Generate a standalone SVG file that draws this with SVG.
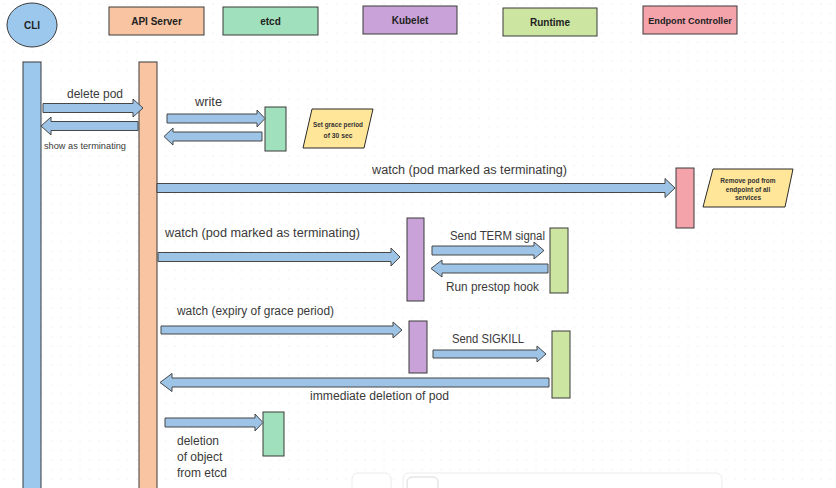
<svg xmlns="http://www.w3.org/2000/svg" width="836" height="488" viewBox="0 0 836 488">
<defs>
<pattern id="dots" x="3" y="3" width="9.5" height="9.5" patternUnits="userSpaceOnUse">
<circle cx="1" cy="1" r="0.6" fill="#e2e2e2"/>
</pattern>
</defs>
<style>
.hd{stroke:#3a3a3a;stroke-width:1}
.bar{stroke:#3a3a3a;stroke-width:1}
.arr{fill:#9DC3E6;stroke:#474747;stroke-width:1;stroke-linejoin:miter}
.note{fill:#FFE699;stroke:#2b2b2b;stroke-width:1}
.ht{font-family:"Liberation Sans",Arial,sans-serif;font-weight:bold;font-size:10px;fill:#222;text-anchor:middle}
.lb{font-family:"Liberation Sans",Arial,sans-serif;font-size:12px;fill:#3a3a3a}
.sm{font-family:"Liberation Sans",Arial,sans-serif;font-size:9px;fill:#3a3a3a}
.nt{font-family:"Liberation Sans",Arial,sans-serif;font-weight:bold;font-size:7.5px;fill:#333;text-anchor:middle}
.nt2{font-family:"Liberation Sans",Arial,sans-serif;font-weight:bold;font-size:6.5px;fill:#333;text-anchor:middle}
.ui{fill:#ffffff;stroke:#ececec;stroke-width:1}
</style>
<rect width="836" height="488" fill="#ffffff"/>
<rect width="836" height="488" fill="url(#dots)"/>

<g id="cli">
<ellipse cx="32" cy="25" rx="25" ry="22" fill="#9DC8EE" class="hd"/>
<text x="32" y="28.5" class="ht">CLI</text>
<rect x="23" y="62" width="18" height="440" fill="#9DC8EE" class="bar"/>
</g>
<g id="api-server">
<rect x="109" y="7" width="95" height="28" fill="#F8C4A2" class="hd"/>
<text x="156.5" y="24.5" class="ht">API Server</text>
<rect x="139" y="62" width="18" height="440" fill="#F8C4A2" class="bar"/>
</g>
<g id="etcd">
<rect x="223" y="7" width="95" height="28" fill="#A0E0BC" class="hd"/>
<text x="270.5" y="24.5" class="ht">etcd</text>
<rect x="265" y="107" width="21" height="44" fill="#A0E0BC" class="bar"/>
<rect x="263" y="412" width="21" height="44" fill="#A0E0BC" class="bar"/>
</g>
<g id="kubelet">
<rect x="363" y="6" width="94" height="28" fill="#C8A2D8" class="hd"/>
<text x="410" y="23.5" class="ht">Kubelet</text>
<rect x="407" y="218" width="17" height="83" fill="#C8A2D8" class="bar"/>
<rect x="409" y="321" width="18" height="52" fill="#C8A2D8" class="bar"/>
</g>
<g id="runtime">
<rect x="503" y="8" width="94" height="28" fill="#CCE5A0" class="hd"/>
<text x="550" y="25.5" class="ht">Runtime</text>
<rect x="550" y="228" width="18" height="65" fill="#CCE5A0" class="bar"/>
<rect x="552" y="331" width="18" height="67" fill="#CCE5A0" class="bar"/>
</g>
<g id="endpoint-controller">
<rect x="643" y="6" width="94" height="28" fill="#F4A3AA" class="hd"/>
<text x="690" y="23.5" class="ht" style="font-size:9.2px">Endpont Controller</text>
<rect x="676" y="168" width="18" height="60" fill="#F4A3AA" class="bar"/>
</g>
<g id="note-grace">
<polygon points="312,109 373,109 364,148 303,148" class="note"/>
<text x="338" y="127" class="nt" textLength="50" lengthAdjust="spacingAndGlyphs">Set grace period</text>
<text x="338" y="138" class="nt" textLength="29" lengthAdjust="spacingAndGlyphs">of 30 sec</text>
</g>
<g id="note-endpoint">
<polygon points="713,169 793,169 785,207 703,207" class="note"/>
<text x="748" y="183" class="nt2">Remove pod from</text>
<text x="748" y="191.5" class="nt2">endpoint of all</text>
<text x="748" y="200" class="nt2">services</text>
</g>

<g id="connectors">
<polygon class="arr" points="43,103.5 133,103.5 133,99 143,108 133,117 133,112.5 43,112.5"/>
<polygon class="arr" points="138,121.5 51,121.5 51,117 41,126 51,135 51,130.5 138,130.5"/>
<polygon class="arr" points="167,114 257,114 257,110 265,118.5 257,127 257,123 167,123"/>
<polygon class="arr" points="262,132 173,132 173,128 164,136.5 173,145 173,141 262,141"/>
<polygon class="arr" points="157,183.5 665,183.5 665,178.5 675,188 665,197.5 665,192.5 157,192.5"/>
<polygon class="arr" points="158,252.5 391,252.5 391,248 400,257 391,266 391,261.5 158,261.5"/>
<polygon class="arr" points="432,246 534,246 534,242 544,250.5 534,259 534,255 432,255"/>
<polygon class="arr" points="548,264 442,264 442,260 431,268.5 442,277 442,273 548,273"/>
<polygon class="arr" points="161,326 393,326 393,322 402,330 393,338 393,334 161,334"/>
<polygon class="arr" points="433,350 537,350 537,346 546,354 537,362 537,358 433,358"/>
<polygon class="arr" points="549,378 172,378 172,373.5 160,382.5 172,391.5 172,387 549,387"/>
<polygon class="arr" points="165,418 255,418 255,414 263,422.5 255,431 255,427 165,427"/>

<text x="67" y="98" class="lb" textLength="56" lengthAdjust="spacingAndGlyphs">delete pod</text>
<text x="44" y="149" class="sm" textLength="82" lengthAdjust="spacingAndGlyphs">show as terminating</text>
<text x="195" y="106" class="lb" textLength="27" lengthAdjust="spacingAndGlyphs">write</text>
<text x="372" y="174" class="lb" textLength="195" lengthAdjust="spacingAndGlyphs">watch (pod marked as terminating)</text>
<text x="165" y="237" class="lb" textLength="195" lengthAdjust="spacingAndGlyphs">watch (pod marked as terminating)</text>
<text x="450" y="240" class="lb" textLength="95" lengthAdjust="spacingAndGlyphs">Send TERM signal</text>
<text x="446" y="291" class="lb" textLength="93" lengthAdjust="spacingAndGlyphs">Run prestop hook</text>
<text x="177" y="315" class="lb" textLength="157" lengthAdjust="spacingAndGlyphs">watch (expiry of grace period)</text>
<text x="452" y="343" class="lb" textLength="72" lengthAdjust="spacingAndGlyphs">Send SIGKILL</text>
<text x="310" y="400" class="lb" textLength="139" lengthAdjust="spacingAndGlyphs">immediate deletion of pod</text>
<text x="177" y="445" class="lb">deletion</text>
<text x="177" y="461" class="lb">of object</text>
<text x="177" y="477" class="lb">from etcd</text>
</g>

<rect x="352" y="473" width="39" height="30" rx="6" class="ui"/>
<rect x="403" y="473" width="319" height="30" rx="6" class="ui"/>
<rect x="407" y="477" width="31" height="20" rx="5" class="ui" style="stroke:#d8d8d8"/>
</svg>
